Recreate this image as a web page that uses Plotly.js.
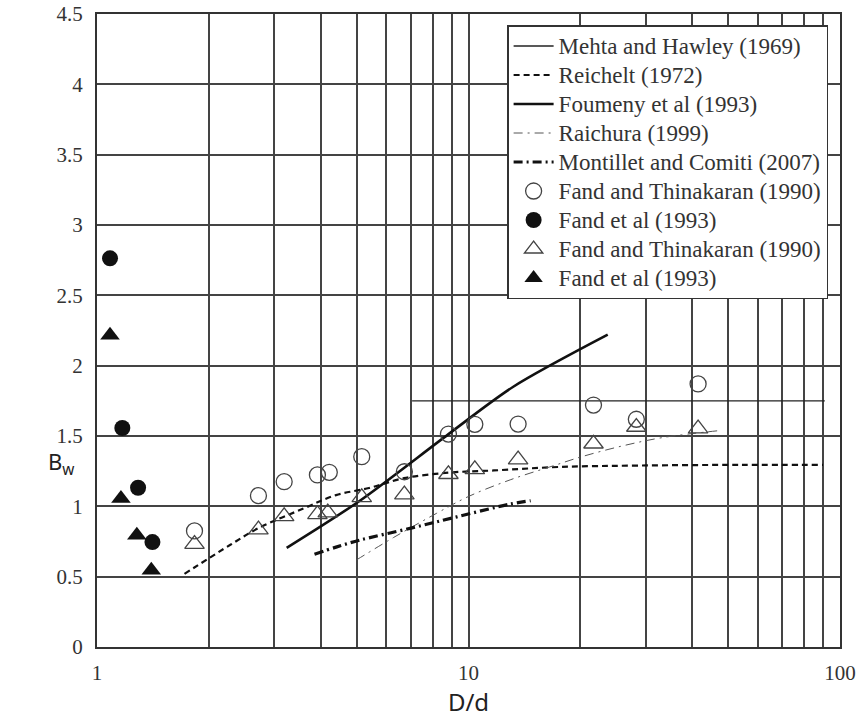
<!DOCTYPE html>
<html>
<head>
<meta charset="utf-8">
<script src="https://cdn.plot.ly/plotly-3.0.1.min.js"></script>
<style>html,body{margin:0;padding:0;background:#fff;}#chart{width:865px;height:719px;}</style>
</head>
<body>
<div id="chart"></div>
<script>
// ---- Data ----
const mehtaX = [7.05, 91];
const mehtaY = [1.75, 1.75];

const reicheltX = [1.72, 2.28, 2.72, 3.6, 4.4, 5.4, 6.7, 8.9, 11.7, 17.6, 29, 54, 90];
const reicheltY = [0.52, 0.725, 0.845, 0.985, 1.08, 1.13, 1.2, 1.24, 1.255, 1.28, 1.29, 1.295, 1.295];

const foumenyX = [3.24, 5.1, 8.8, 13.2, 23.7];
const foumenyY = [0.705, 1.04, 1.51, 1.85, 2.22];

const raichuraX = [5.0, 6.3, 8.2, 10, 13, 17, 20, 26, 33.5, 48];
const raichuraY = [0.62, 0.78, 0.95, 1.07, 1.19, 1.29, 1.35, 1.43, 1.49, 1.54];

const montilletX = [3.85, 4.4, 5.1, 7, 9.3, 12.9, 14.7];
const montilletY = [0.66, 0.71, 0.76, 0.845, 0.925, 1.015, 1.04];

const fandThinCircX = [1.83, 2.72, 3.19, 3.92, 4.22, 5.16, 6.72, 8.83, 10.4, 13.6, 21.7, 28.3, 41.5];
const fandThinCircY = [0.825, 1.076, 1.175, 1.223, 1.242, 1.353, 1.246, 1.514, 1.583, 1.585, 1.72, 1.619, 1.87];

const fandCircX = [1.084, 1.17, 1.29, 1.41];
const fandCircY = [2.763, 1.557, 1.132, 0.746];

const fandThinTriX = [1.83, 2.72, 3.19, 3.92, 4.18, 5.16, 6.72, 8.83, 10.4, 13.6, 21.7, 28.3, 41.5];
const fandThinTriY = [0.732, 0.834, 0.929, 0.943, 0.955, 1.064, 1.083, 1.228, 1.263, 1.332, 1.445, 1.564, 1.552];

const fandTriX = [1.084, 1.16, 1.28, 1.40];
const fandTriY = [2.216, 1.055, 0.795, 0.545];

const seriesNames = [
  'Mehta and Hawley (1969)',
  'Reichelt (1972)',
  'Foumeny et al (1993)',
  'Raichura (1999)',
  'Montillet and Comiti (2007)',
  'Fand and Thinakaran (1990)',
  'Fand et al (1993)',
  'Fand and Thinakaran (1990)',
  'Fand et al (1993)'
];

const xTickVals = [1, 10, 100];
const xTickText = ['1', '10', '100'];
const xMinorVals = [2, 3, 4, 5, 6, 7, 8, 9, 20, 30, 40, 50, 60, 70, 80, 90];
const yTickVals = [0, 0.5, 1, 1.5, 2, 2.5, 3, 3.5, 4, 4.5];

const serif = 'Liberation Serif, Times New Roman, serif';
const sans = 'Noto Sans, Open Sans, sans-serif';
const big = s => '<span style="font-size:23px">' + s + '</span>';

// ---- Traces ----
const traces = [
  {x: mehtaX, y: mehtaY, name: big(seriesNames[0]), mode: 'lines',
   line: {color: '#222', width: 1.3}},
  {x: reicheltX, y: reicheltY, name: big(seriesNames[1]), mode: 'lines',
   line: {color: '#111', width: 2.2, dash: '6px,4px', shape: 'spline'}},
  {x: foumenyX, y: foumenyY, name: big(seriesNames[2]), mode: 'lines',
   line: {color: '#111', width: 2.6, shape: 'spline', smoothing: 0.8}},
  {x: raichuraX, y: raichuraY, name: big(seriesNames[3]), mode: 'lines',
   line: {color: '#555', width: 1, dash: '9px,5px,2px,5px', shape: 'spline'}},
  {x: montilletX, y: montilletY, name: big(seriesNames[4]), mode: 'lines',
   line: {color: '#111', width: 3.2, dash: '9px,4px,2px,4px', shape: 'spline'}},
  {x: fandThinCircX, y: fandThinCircY, name: big(seriesNames[5]), mode: 'markers',
   marker: {symbol: 'circle-open', size: 16, color: '#444', line: {width: 1.3, color: '#444'}}},
  {x: fandCircX, y: fandCircY, name: big(seriesNames[6]), mode: 'markers',
   marker: {symbol: 'circle', size: 16, color: '#111'}},
  {x: fandThinTriX, y: fandThinTriY, name: big(seriesNames[7]), mode: 'markers',
   marker: {symbol: 'triangle-up-open', size: 17, color: '#444', line: {width: 1.3, color: '#444'}}},
  {x: fandTriX, y: fandTriY, name: big(seriesNames[8]), mode: 'markers',
   marker: {symbol: 'triangle-up', size: 17, color: '#111'}}
];

const gridCol = '#444';
const layout = {
  width: 865, height: 719,
  margin: {l: 97, r: 25, t: 14, b: 72},
  paper_bgcolor: '#fff', plot_bgcolor: '#fff',
  showlegend: true,
  font: {family: serif, color: '#222'},
  xaxis: {
    type: 'log', range: [0, 2],
    tickmode: 'array', tickvals: xTickVals, ticktext: xTickText,
    ticks: 'outside', ticklen: 6, tickcolor: 'rgba(0,0,0,0)',
    tickfont: {family: serif, size: 21, color: '#333'},
    showgrid: true, gridcolor: gridCol, gridwidth: 2,
    minor: {tickmode: 'array', tickvals: xMinorVals, showgrid: true, gridcolor: gridCol, gridwidth: 2, ticks: ''},
    showline: true, linecolor: '#333', linewidth: 2, mirror: true,
    zeroline: false,
    title: {text: 'D/d', font: {family: sans, size: 24, color: '#222'}, standoff: 4}
  },
  yaxis: {
    range: [0, 4.5],
    tickmode: 'array', tickvals: yTickVals,
    ticks: 'outside', ticklen: 8, tickcolor: 'rgba(0,0,0,0)',
    tickfont: {family: serif, size: 21, color: '#333'},
    showgrid: true, gridcolor: gridCol, gridwidth: 2,
    showline: true, linecolor: '#333', linewidth: 2, mirror: true,
    zeroline: false
  },
  legend: {
    x: 0.984, xanchor: 'right', y: 0.9826, yanchor: 'top',
    bgcolor: '#fff', bordercolor: '#333', borderwidth: 1.5,
    font: {family: serif, size: 20, color: '#333'},
    itemwidth: 40,
    tracegroupgap: 0
  },
  annotations: [{
    text: 'B<sub>w</sub>', xref: 'paper', yref: 'paper', x: -0.048, y: 0.29,
    xanchor: 'center', yanchor: 'middle', showarrow: false,
    font: {family: sans, size: 22, color: '#222'}
  }]
};

Plotly.newPlot('chart', traces, layout, {displayModeBar: false, staticPlot: true});
</script>
</body>
</html>
